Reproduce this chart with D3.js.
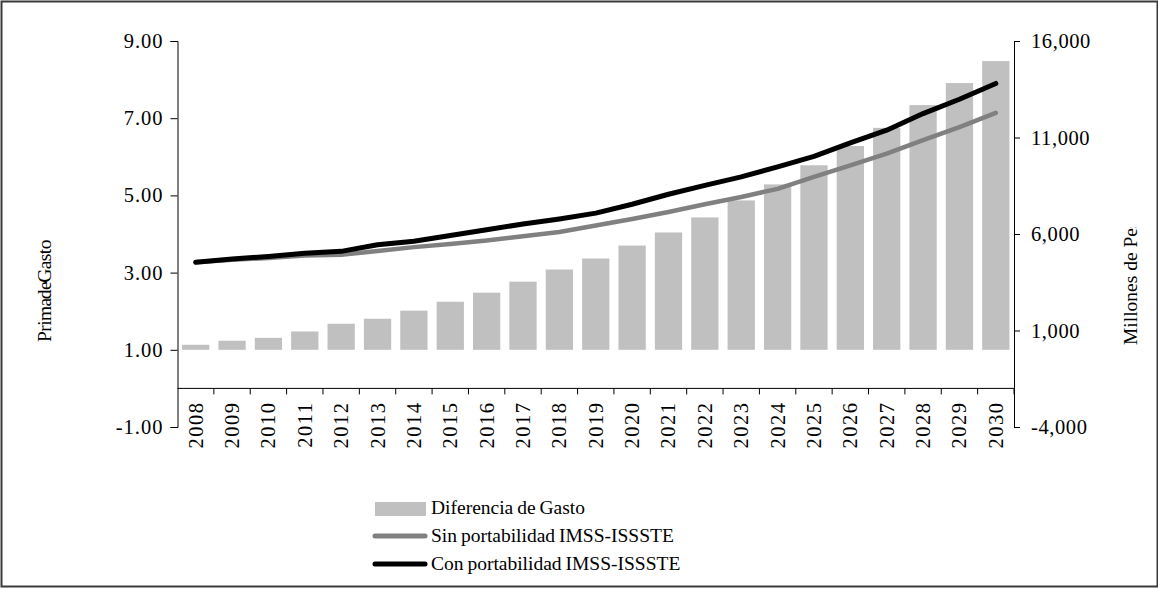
<!DOCTYPE html>
<html>
<head>
<meta charset="utf-8">
<script src="https://cdn.jsdelivr.net/npm/d3@7"></script>
<style>
    body { margin: 0; background: #fff; }
    svg { display: block; }
</style>
</head>
<body>
<div id="chart"></div>
<script>
// données
const years = ["2008","2009","2010","2011","2012","2013","2014","2015","2016","2017","2018","2019",
               "2020","2021","2022","2023","2024","2025","2026","2027","2028","2029","2030"];
// Diferencia de Gasto (millones de pesos, axe de droite)
const diferencia = [260, 470, 620, 950, 1350, 1610, 2030, 2490, 2960, 3530, 4160, 4730,
                    5400, 6080, 6860, 7740, 8570, 9560, 10560, 11500, 12680, 13820, 14960];
// Prima de gasto (axe de gauche)
const sinPort = [3.27, 3.33, 3.38, 3.44, 3.46, 3.56, 3.66, 3.74, 3.83, 3.94, 4.05, 4.22,
                 4.39, 4.57, 4.77, 4.96, 5.17, 5.48, 5.78, 6.08, 6.43, 6.77, 7.14];
const conPort = [3.27, 3.35, 3.42, 3.50, 3.55, 3.72, 3.81, 3.96, 4.11, 4.26, 4.39, 4.54,
                 4.77, 5.03, 5.26, 5.48, 5.74, 6.01, 6.36, 6.69, 7.12, 7.49, 7.90];
const leftTicks = [-1, 1, 3, 5, 7, 9];
const rightTicks = [-4000, 1000, 6000, 11000, 16000];
const legendLabels = ["Diferencia de Gasto", "Sin portabilidad IMSS-ISSSTE", "Con portabilidad IMSS-ISSSTE"];

const width = 1158, height = 589;
const plot = { left: 177.5, right: 1014, top: 41, bottom: 427 };
const font = "'Liberation Serif', 'Times New Roman', serif";

const svg = d3.select("#chart").append("svg")
    .attr("width", width)
    .attr("height", height)
    .style("font-family", font);

// cadre extérieur
svg.append("rect")
    .attr("x", 1.5).attr("y", 1.5)
    .attr("width", 1156).attr("height", 585)
    .attr("fill", "none")
    .attr("stroke", "#3a3a3a")
    .attr("stroke-width", 2);

// échelles
const x = d3.scaleBand()
    .domain(years)
    .range([plot.left, plot.right])
    .paddingInner(0.25)
    .paddingOuter(0.125);

const yL = d3.scaleLinear().domain([-1, 9]).range([plot.bottom, plot.top]);
const yR = d3.scaleLinear().domain([-4000, 16000]).range([plot.bottom, plot.top]);

// tiret simple au lieu du signe moins unicode
const hyphen = f => d => f(d).replace("\u2212", "-");

// barres (axe secondaire, base 0)
svg.append("g")
    .selectAll("rect")
    .data(diferencia)
    .join("rect")
    .attr("x", (d, i) => x(years[i]))
    .attr("y", d => yR(d))
    .attr("width", x.bandwidth())
    .attr("height", d => yR(0) - yR(d))
    .attr("fill", "#c0c0c0");

// axe gauche
const axL = svg.append("g")
    .attr("transform", `translate(${plot.left},0)`)
    .call(d3.axisLeft(yL).tickValues(leftTicks).tickSizeOuter(0).tickSize(7).tickPadding(7)
        .tickFormat(hyphen(d3.format(".2f"))));
axL.selectAll("text")
    .style("font-family", font)
    .style("font-size", "20.5px")
    .style("letter-spacing", "1px")
    .attr("fill", "#000");

// axe droit
const axR = svg.append("g")
    .attr("transform", `translate(${plot.right},0)`)
    .call(d3.axisRight(yR).tickValues(rightTicks).tickSizeOuter(0).tickSize(6).tickPadding(11)
        .tickFormat(hyphen(d3.format(","))));
axR.selectAll("text")
    .style("font-family", font)
    .style("font-size", "20.5px")
    .style("letter-spacing", "0.6px")
    .attr("fill", "#000");

// axe des catégories (à la valeur 0 de l'axe gauche)
const y0 = yL(0);
svg.append("line")
    .attr("x1", plot.left).attr("x2", plot.right)
    .attr("y1", y0).attr("y2", y0)
    .attr("stroke", "#000");

const bounds = years.map(d => x(d) - x.step() * x.paddingInner() / 2).concat([plot.right]);
svg.append("g")
    .selectAll("line")
    .data(bounds.slice(1))
    .join("line")
    .attr("x1", d => d).attr("x2", d => d)
    .attr("y1", y0).attr("y2", y0 + 6)
    .attr("stroke", "#000");

svg.append("g")
    .selectAll("text")
    .data(years)
    .join("text")
    .attr("transform", d => `translate(${x(d) + x.bandwidth() / 2 + 7},${y0 + 13}) rotate(-90)`)
    .attr("text-anchor", "end")
    .style("font-size", "20.5px")
    .style("letter-spacing", "1.5px")
    .text(d => d);

// lignes
const line = d3.line()
    .x((d, i) => x(years[i]) + x.bandwidth() / 2)
    .y(d => yL(d));

svg.append("path")
    .datum(sinPort)
    .attr("d", line)
    .attr("fill", "none")
    .attr("stroke", "#808080")
    .attr("stroke-width", 4.5)
    .attr("stroke-linejoin", "round")
    .attr("stroke-linecap", "round");

svg.append("path")
    .datum(conPort)
    .attr("d", line)
    .attr("fill", "none")
    .attr("stroke", "#000")
    .attr("stroke-width", 5)
    .attr("stroke-linejoin", "round")
    .attr("stroke-linecap", "round");

// titres des axes (tronqués comme dans l'original)
const defs = svg.append("defs");
defs.append("clipPath").attr("id", "clipL")
    .append("rect").attr("x", 0).attr("y", 233).attr("width", 120).attr("height", 200);
defs.append("clipPath").attr("id", "clipR")
    .append("rect").attr("x", 1100).attr("y", 227).attr("width", 58).attr("height", 200);

svg.append("g").attr("clip-path", "url(#clipL)")
    .append("text")
    .attr("transform", "translate(51,342) rotate(-90)")
    .style("font-size", "19.5px")
    .style("word-spacing", "-5px")
    .style("letter-spacing", "-0.6px")
    .text("Prima de Gasto");

svg.append("g").attr("clip-path", "url(#clipR)")
    .append("text")
    .attr("transform", "translate(1137,345) rotate(-90)")
    .style("font-size", "19.5px")
    .text("Millones de Pesos");

// légende
const legend = svg.append("g");
legend.append("rect")
    .attr("x", 375).attr("y", 502)
    .attr("width", 51).attr("height", 14)
    .attr("fill", "#c0c0c0");
[["#808080", 536], ["#000", 564]].forEach(([c, yy]) => {
    legend.append("line")
        .attr("x1", 375).attr("x2", 425)
        .attr("y1", yy).attr("y2", yy)
        .attr("stroke", c)
        .attr("stroke-width", 5)
        .attr("stroke-linecap", "round");
});
legend.selectAll("text")
    .data(legendLabels)
    .join("text")
    .attr("x", 431)
    .attr("y", (d, i) => 514 + i * 28)
    .style("font-size", "19.5px")
    .style("word-spacing", "-1px")
    .text(d => d);
</script>
</body>
</html>
